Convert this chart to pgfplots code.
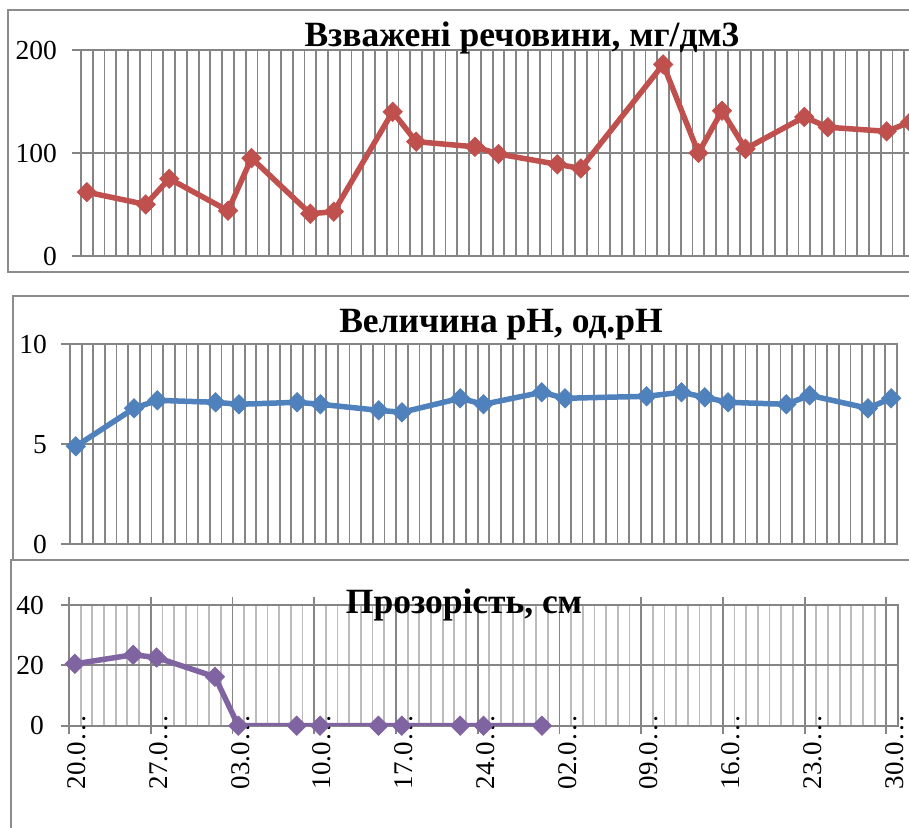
\documentclass[border=0pt]{standalone}
\usepackage{fontspec}
\setmainfont{Liberation Serif}
\usepackage{pgfplots}
\pgfplotsset{compat=1.18}
\definecolor{gridc}{HTML}{858585}
\definecolor{gridl}{HTML}{BBBBBB}
\definecolor{framec}{HTML}{8C8C8C}
\definecolor{redc}{HTML}{C0504D}
\definecolor{bluec}{HTML}{4F81BD}
\definecolor{purc}{HTML}{8064A2}
\pgfplotsset{
  panel/.style={
    scale only axis, xmin=0, xmax=71, ymin=0,
    anchor=south west,
    axis line style={draw=gridc, line width=1.8pt},
    ymajorgrids,
    major grid style={draw=gridc, line width=1.8pt},
    ytick pos=left,
    tick align=outside,
    major tick length=9pt,
    every tick/.style={draw=gridc, line width=1.8pt},
    yticklabel style={font=\fontsize{27.5}{30}\selectfont, inner sep=0pt},
    xticklabel style={font=\fontsize{27}{30}\selectfont, inner sep=0pt},
    /pgf/number format/assume math mode=true,
  },
  series/.style={line width=5.5pt, mark=square*, mark size=6.8pt,
    mark options={rotate=45, line width=0.8pt, draw=#1, fill=#1}, draw=#1},
}
\begin{document}
\begin{tikzpicture}
\clip (0,0) rectangle (909pt,827pt);
\path[use as bounding box] (0,0) rectangle (909pt,827pt);
\fill[white] (0,0) rectangle (909pt,827pt);
% chart frames
\draw[framec, line width=1.6pt] (8pt,817pt) rectangle (930pt,555pt);
\draw[framec, line width=1.6pt] (13pt,531pt) rectangle (930pt,267pt);
\draw[framec, line width=1.6pt] (11pt,267pt) rectangle (930pt,-20pt);

% top panel
\begin{axis}[panel, at={(81pt,571pt)}, width=835pt, height=206pt,
  ymax=200, ytick={0,100,200}, yticklabel shift=15pt,
  xtick={0,...,71}, xticklabels={}, xmajorgrids,
  x tick style={draw=none}]
\addplot[series=redc] coordinates {
(0.5,62) (5.5,50) (7.5,75) (12.5,44) (14.5,95) (19.5,41) (21.5,43)
(26.5,140) (28.5,111) (33.5,106) (35.5,99) (40.5,89) (42.5,85)
(49.5,186) (52.5,100) (54.5,141) (56.5,104) (61.5,135) (63.5,125)
(68.5,121) (70.5,130)};
\end{axis}

% middle panel
\begin{axis}[panel, at={(70pt,282.7pt)}, width=827pt, height=200pt,
  ymax=10, ytick={0,5,10}, yticklabel shift=14pt,
  xtick={0,...,71}, xticklabels={}, xmajorgrids,
  x tick style={draw=none}]
\addplot[series=bluec] coordinates {
(0.5,4.9) (5.5,6.8) (7.5,7.2) (12.5,7.1) (14.5,7.0) (19.5,7.1) (21.5,7.0)
(26.5,6.7) (28.5,6.6) (33.5,7.3) (35.5,7.0) (40.5,7.6) (42.5,7.3)
(49.5,7.4) (52.5,7.6) (54.5,7.35) (56.5,7.1) (61.5,7.0) (63.5,7.45)
(68.5,6.8) (70.5,7.3)};
\end{axis}

% bottom panel
\begin{axis}[panel, at={(69pt,101.3pt)}, width=829pt, height=120.7pt,
  ymax=40, ytick={0,20,40}, yticklabel shift=17pt,
  major tick length=8pt,
  xtick={0,7,...,70}, xmajorgrids,
  minor xtick={0,...,71}, xminorgrids,
  minor grid style={draw=gridl, line width=1.8pt},
  minor tick length=0pt,
  xticklabels={20.0…,27.0…,03.0…,10.0…,17.0…,24.0…,02.0…,09.0…,16.0…,23.0…,30.0…},
  xticklabel style={xshift=8pt, rotate=90, anchor=east},
  xticklabel shift=-19pt]
\addplot[series=purc] coordinates {
(0.5,20.5) (5.5,23.5) (7.5,22.6) (12.5,16.2) (14.5,0) (19.5,0) (21.5,0)
(26.5,0) (28.5,0) (33.5,0) (35.5,0) (40.5,0)};
\end{axis}

% titles
\node[anchor=base, font=\fontsize{35.5}{38}\selectfont\bfseries] at (522pt,780pt) {Взважені речовини, мг/дм3};
\node[anchor=base, font=\fontsize{35.5}{38}\selectfont\bfseries] at (501pt,494pt) {Величина рН, од.рН};
\node[anchor=base, font=\fontsize{35.5}{38}\selectfont\bfseries] at (464pt,213pt) {Прозорість, см};
\end{tikzpicture}
\end{document}
